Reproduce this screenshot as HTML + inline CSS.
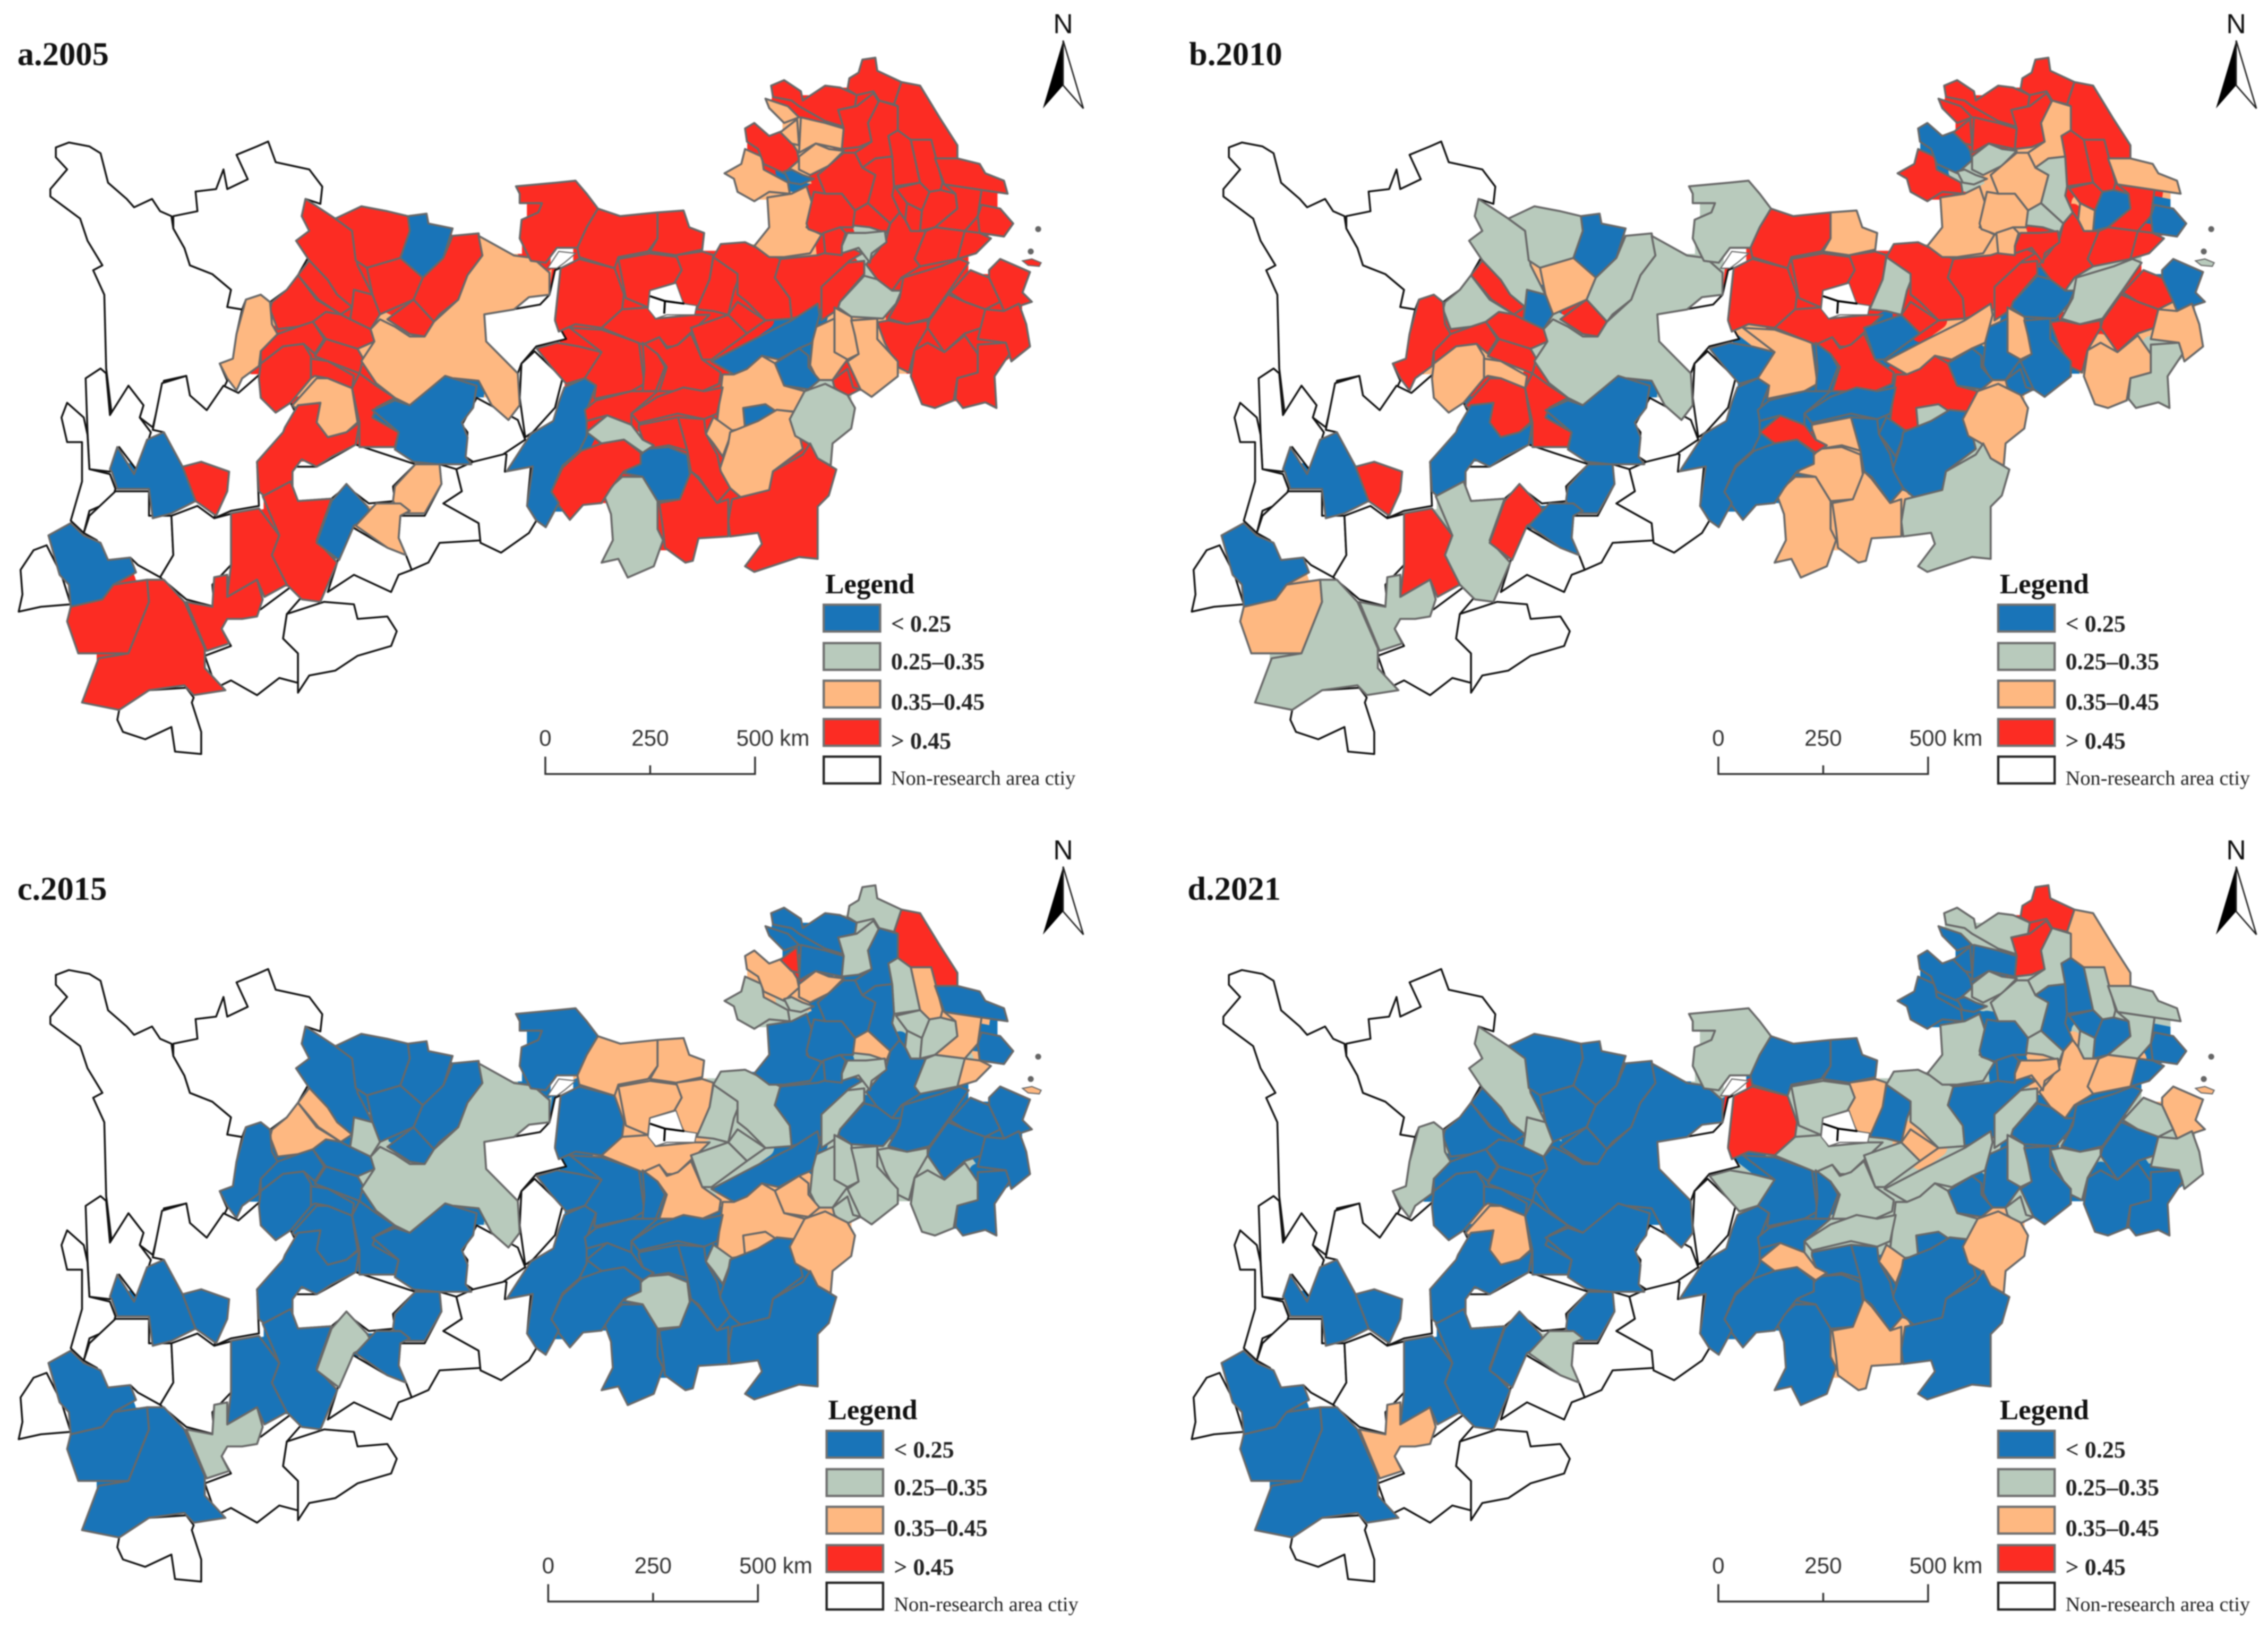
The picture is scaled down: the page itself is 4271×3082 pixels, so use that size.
<!DOCTYPE html>
<html lang="en">
<head>
<meta charset="utf-8">
<title>Four-panel choropleth map 2005-2021</title>
<style>
html,body{margin:0;padding:0;background:#fff}
svg{display:block;width:4271px;height:3082px;filter:blur(1.4px)}
.ttl{font:bold 23px "Liberation Serif",serif;fill:#111}
.leg-t{font:bold 19.5px "Liberation Serif",serif;fill:#111}
.leg-l{font:bold 16.2px "Liberation Serif",serif;fill:#222}
.leg-n{font:14.1px "Liberation Serif",serif;fill:#222}
.sc{font:15.5px "Liberation Sans",sans-serif;fill:#333}
.n{font:19px "Liberation Sans",sans-serif;fill:#111}
</style>
</head>
<body>
<svg id="figure" xmlns="http://www.w3.org/2000/svg" viewBox="0 0 1568 1131.5">
<defs>
<filter id="close-gaps" filterUnits="userSpaceOnUse" x="0" y="0" width="1568" height="1132" primitiveUnits="userSpaceOnUse">
<feMorphology in="SourceAlpha" operator="erode" radius="6" result="closed"/>
<feComposite in="SourceGraphic" in2="closed" operator="in"/>
</filter>
</defs>
</svg>
<script>
// ---------- chart data ----------
var panelTitles = ['a.2005', 'b.2010', 'c.2015', 'd.2021'];
var legendTitle = 'Legend';
var legendLabels = ['< 0.25', '0.25\u20130.35', '0.35\u20130.45', '> 0.45', 'Non-research area ctiy'];
var classBreaks = [0.25, 0.35, 0.45];
var classColors = ['#1974b8', '#b8cabc', '#feb881', '#fc2c23'];
var scaleTicks = [0, 250, 500];
var scaleUnit = 'km';
var northLabel = 'N';

// 31 western cities followed by 78 eastern cities, in the same order as the shapes below
var values2005 = [
.5,.5,.2,.5,.5,.5,.5,.5,.5,.5,.4,.5,.5,.5,.5,.4,.4,.5,.2,.5,.2,.5,.5,.5,.2,.4,.4,.2,.5,.5,.5,
.5,.5,.5,.5,.5,.5,.5,.5,.5,.5,
.4,.4,.5,.2,.4,.4,.4,.4,.5,.5,
.5,.5,.5,.5,.5,.5,.5,.5,.5,.5,
.5,.5,.5,.5,.5,.5,.5,.5,.3,.5,
.3,.5,.5,.5,.5,.5,.5,.5,.5,.4,
.4,.4,.5,.2,.2,.4,.2,.4,.4,.3,
.5,.2,.5,.5,.3,.3,.5,.5,.2,.5,
.5,.5,.5,.5,.5,.5,.5,.5
];
var values2010 = [
.3,.3,.2,.4,.3,.5,.5,.3,.2,.5,.5,.5,.4,.5,.4,.5,.3,.5,.2,.2,.2,.5,.5,.3,.5,.2,.2,.2,.4,.3,.3,
.3,.5,.4,.5,.5,.5,.3,.5,.5,.5,
.4,.5,.2,.3,.3,.5,.5,.5,.5,.5,
.5,.5,.4,.5,.5,.4,.4,.3,.5,.4,
.2,.5,.2,.5,.5,.5,.4,.3,.5,.4,
.2,.3,.5,.2,.5,.4,.5,.4,.3,.4,
.2,.2,.2,.4,.2,.5,.3,.2,.2,.4,
.3,.4,.2,.4,.5,.4,.4,.2,.2,.2,
.4,.5,.5,.2,.5,.2,.2,.2
];
var values2015 = [
.2,.2,.2,.2,.2,.2,.4,.4,.3,.2,.2,.2,.2,.2,.2,.2,.3,.2,.2,.2,.2,.2,.2,.2,.3,.2,.2,.2,.2,.2,.3,
.2,.4,.4,.2,.4,.4,.3,.3,.2,.3,
.2,.3,.4,.3,.4,.2,.5,.2,.2,.3,
.5,.3,.2,.3,.4,.2,.2,.2,.3,.3,
.3,.4,.2,.4,.3,.2,.2,.4,.3,.2,
.2,.2,.2,.2,.2,.2,.3,.3,.2,.3,
.3,.3,.3,.2,.4,.4,.4,.3,.2,.4,
.2,.3,.2,.2,.2,.2,.2,.2,.2,.2,
.2,.4,.4,.3,.3,.2,.2,.2
];
var values2021 = [
.3,.2,.2,.2,.2,.2,.2,.2,.3,.2,.3,.2,.2,.2,.2,.4,.2,.2,.2,.2,.2,.2,.2,.2,.2,.2,.3,.2,.2,.2,.4,
.3,.2,.2,.5,.3,.4,.2,.3,.2,.3,
.3,.2,.2,.2,.3,.2,.2,.2,.3,.5,
.4,.5,.3,.2,.3,.3,.3,.2,.2,.3,
.2,.3,.2,.2,.4,.4,.2,.3,.4,.2,
.2,.2,.3,.4,.2,.3,.3,.2,.2,.3,
.2,.2,.3,.3,.2,.3,.2,.4,.2,.4,
.2,.2,.2,.2,.4,.2,.4,.2,.2,.3,
.2,.3,.3,.3,.4,.2,.2,.3
];
var seriesByPanel = [values2005, values2010, values2015, values2021];

// ---------- map geometry (digitised outlines, not data) ----------
var westCities = [
[820,405,900,445,945,470,960,540,1000,600,950,590,945,625,905,600,880,570,830,530,795,490,830,470,810,440],
[900,445,970,420,1040,430,1095,440,1100,470,1075,525,985,545,955,530,945,470],
[1095,440,1145,435,1150,455,1215,465,1190,525,1135,565,1100,545,1075,525,1100,470],
[985,545,1075,525,1135,565,1110,610,1050,630,1020,640,1000,600],
[1215,480,1285,475,1295,520,1255,560,1230,610,1180,640,1165,655,1110,610,1135,565,1190,525],
[1040,650,1110,610,1165,655,1140,685,1100,680,1060,660],
[830,530,880,570,905,600,945,625,915,640,855,610,800,560],
[800,560,850,610,915,640,875,635,840,655,800,665,745,670,725,630,730,615,770,590],
[945,625,950,590,1000,600,1020,640,995,670,940,650],
[840,655,875,635,915,640,940,650,995,670,1005,695,960,710,875,690],
[660,610,700,600,725,615,730,660,745,680,700,715,695,745,650,770,635,795,610,770,590,740,625,730,635,680],
[745,680,800,665,840,655,870,690,845,720,815,700,760,705,700,740,700,715],
[700,740,760,705,815,700,835,725,835,770,780,820,740,840,700,810,695,770],
[875,690,960,710,975,730,965,760,880,735,845,725],
[835,730,880,735,950,765,945,790,880,770,845,765,835,770],
[785,825,850,770,880,770,945,790,960,860,930,880,880,890,850,860,860,820,790,830],
[1285,480,1380,520,1430,525,1475,555,1475,600,1420,605,1380,630,1300,640,1305,695,1390,760,1395,825,1365,855,1320,825,1285,775,1220,770,1190,770,1140,800,1100,825,1060,810,1010,780,970,735,1005,695,995,670,1020,650,1060,665,1100,685,1140,685,1165,655,1230,610,1255,560,1295,520],
[965,760,1010,785,1060,810,1010,830,1000,850,1070,880,1060,910,1005,910,965,910,965,860,945,790],
[1000,835,1060,815,1100,825,1140,800,1195,765,1280,785,1270,830,1240,860,1255,890,1250,930,1265,945,1175,945,1110,940,1060,915,1070,880],
[765,870,800,825,860,820,850,860,880,890,930,880,965,860,955,905,890,930,850,950,810,935,785,960,785,1000,710,1010,695,1000,690,940,760,880],
[295,955,315,910,360,965,395,895,440,880,490,950,525,1020,460,1045,410,1055,400,995,315,995,300,960],
[490,950,540,940,615,960,610,1000,580,1050,525,1020],
[620,1045,695,1035,750,1090,730,1130,770,1190,710,1215,690,1180,610,1215,620,1150],
[705,1010,780,980,800,1020,890,1015,850,1100,905,1145,860,1225,810,1220,770,1190,730,1130,750,1090],
[890,1020,930,985,985,1030,1000,1050,950,1070,910,1140,850,1105],
[1060,990,1115,945,1180,945,1185,985,1140,1045,1075,1045,1055,1020],
[955,1070,1010,1025,1075,1025,1100,1040,1075,1050,1070,1095,1090,1130,1040,1115],
[130,1090,190,1065,225,1090,270,1105,290,1140,350,1135,365,1165,305,1190,275,1220,190,1235,185,1190,160,1170],
[190,1235,275,1220,305,1190,395,1180,400,1225,345,1330,210,1330,180,1265],
[395,1180,440,1180,495,1225,550,1320,550,1360,605,1405,520,1415,495,1395,400,1405,320,1445,220,1430,265,1340,345,1330,400,1225],
[500,1225,570,1235,575,1175,610,1170,610,1215,690,1180,705,1220,690,1255,650,1260,610,1260,595,1280,615,1310,555,1325]
];
var eastCities = [
[-40,500,70,490,120,485,150,520,180,560,150,610,125,665,70,665,40,705,0,700,-30,640,-25,590,20,570,30,545,-30,545,-30,520],
[180,560,240,580,340,570,340,640,315,675,235,690,225,720,130,690,125,665,150,610],
[340,570,410,565,425,610,465,625,460,670,390,685,320,675,340,640],
[80,720,130,695,225,720,250,790,245,830,190,880,120,870,75,890,65,860],
[235,695,320,680,395,690,405,725,385,760,320,780,315,825,255,800],
[390,685,460,675,490,685,480,750,450,825,410,815,385,760,405,725],
[490,690,565,730,545,780,530,845,490,835,445,830,480,750],
[510,655,575,650,670,695,655,745,695,800,700,855,630,860,580,810,555,790,555,735,490,690],
[670,695,770,685,850,660,890,680,855,700,800,760,780,800,780,830,700,855,695,800,655,745],
[780,770,850,705,895,700,895,735,830,810,825,830,780,860],
[600,660,640,610,635,530,700,520,740,500,760,560,740,610,780,630,750,680,680,690,640,690],
[520,465,565,440,575,400,620,420,625,455,690,490,695,520,640,515,600,540,555,515,545,480],
[575,345,600,330,640,365,680,350,715,405,720,430,680,465,625,440,610,400,580,380],
[680,460,700,455,730,470,760,480,725,495,695,490],
[720,420,765,385,800,400,840,405,800,445,750,470,720,455],
[725,315,790,330,840,345,835,400,765,385,720,410],
[670,355,715,320,720,390,700,385],
[630,265,690,285,720,315,680,330,640,290],
[645,230,680,215,725,245,730,270,790,230,830,235,875,255,870,285,825,295,840,340,790,325,720,285,700,270,650,260],
[855,210,880,195,890,160,925,155,930,190,995,220,975,280,935,270,920,245,875,255,850,240],
[995,220,1045,230,1100,320,1145,390,1145,425,1085,425,1075,375,1015,375,985,350,985,285,975,280],
[825,295,875,285,920,250,935,275,905,330,915,380,880,395,835,400,840,345],
[935,270,985,285,985,350,960,365,970,420,925,425,890,450,870,410,915,380,905,330],
[960,365,985,350,1020,375,1045,490,975,500,970,420],
[1020,375,1075,375,1105,490,1100,510,1070,515,1045,490],
[1085,425,1145,425,1205,440,1220,465,1270,485,1280,520,1210,510,1110,495],
[770,470,840,410,870,410,890,450,925,470,905,545,870,565,835,520,790,520],
[890,450,925,425,970,420,975,500,970,525,990,570,965,600,905,545,925,470],
[980,505,1045,490,1070,515,1050,565,1010,545],
[1010,545,1050,565,1045,620,1020,620,1005,590],
[1070,515,1100,510,1140,520,1145,560,1085,610,1045,620,1050,565],
[1110,495,1210,510,1200,580,1165,620,1085,610,1145,560,1140,520],
[1210,550,1260,560,1295,600,1270,635,1205,625,1200,580],
[1165,620,1205,625,1235,640,1195,680,1145,695,1140,650],
[1060,620,1085,610,1165,620,1145,695,1045,715,1030,695],
[965,600,990,570,1005,590,1020,620,1060,620,1030,695,1045,715,995,745,970,780,930,750,900,710,930,675,955,640],
[740,600,760,515,790,520,835,520,870,565,865,610,830,610,785,630,745,615],
[870,565,905,545,965,600,955,625,910,610,865,605],
[835,660,850,625,900,625,950,620,955,650,915,680,910,705,880,665,835,680],
[785,625,830,610,845,625,835,660,835,685,790,680],
[830,810,895,740,930,750,970,780,995,780,980,815,945,855,860,850,825,825],
[1000,745,1100,715,1150,695,1175,705,1120,785,1070,855,1010,870,960,855,990,800],
[1125,785,1180,725,1230,745,1260,810,1220,830,1165,810],
[1230,725,1260,695,1340,730,1320,785,1345,810,1270,835,1260,810,1230,745],
[1070,860,1120,790,1165,810,1220,830,1210,880,1165,895,1110,945,1065,880],
[1220,830,1270,835,1310,815,1330,870,1340,930,1290,970,1275,920,1200,910],
[930,865,960,860,1010,870,1065,860,1065,880,1030,940,1015,1000,985,985,950,920],
[1030,940,1065,920,1110,945,1165,900,1200,950,1200,1000,1145,1015,1135,1075,1085,1095,1050,1085,1020,1010],
[1200,925,1275,920,1285,950,1245,1010,1250,1095,1220,1080,1160,1095,1140,1070,1145,1015,1200,1000],
[815,825,860,850,870,900,880,950,850,965,815,945],
[760,880,815,855,815,945,850,965,835,985,810,1020,770,1020,750,980],
[860,860,930,855,930,910,985,970,985,1010,915,1065,885,1045,850,970,880,950,870,900],
[810,1020,850,990,865,1040,885,1045,845,1065,815,1040],
[485,970,600,910,700,860,770,815,775,845,755,920,720,935,665,965,620,955,580,990,545,1005],
[655,975,720,935,745,955,745,985,775,1020,745,1045,680,1035],
[515,1005,545,1005,580,990,620,955,655,975,680,1035,735,1050,710,1105,660,1100,610,1130,570,1150,540,1155,500,1130],
[570,1095,630,1085,660,1105,610,1130,575,1150],
[470,1165,490,1120,505,1130,540,1155,530,1185,515,1225,490,1190],
[535,1160,610,1130,660,1100,705,1105,730,1205,650,1265,640,1315,570,1340,535,1310,505,1265,530,1190],
[695,1125,735,1050,790,1030,850,1060,870,1095,860,1150,810,1190,805,1250,770,1230,745,1190,710,1170],
[540,1340,640,1315,650,1265,730,1220,750,1190,770,1230,820,1260,800,1330,770,1360,770,1500,720,1495,600,1535,575,1520,620,1460,610,1430,535,1440,530,1400],
[310,1205,370,1200,420,1220,430,1300,400,1340,340,1345,300,1280,250,1270],
[395,1120,465,1125,470,1165,500,1220,510,1265,535,1310,500,1350,450,1280,430,1265,420,1210],
[290,1140,395,1120,420,1210,370,1195,310,1205,290,1150],
[150,1160,205,1115,270,1140,300,1180,330,1195,300,1215,250,1180,190,1190],
[195,1325,245,1280,300,1280,340,1345,340,1420,355,1450,330,1520,260,1550,235,1500,190,1510,220,1450,215,1380],
[345,1350,400,1340,430,1265,450,1285,500,1350,530,1340,530,1440,450,1445,435,1505,415,1510,360,1470,355,1420],
[55,1320,85,1255,135,1210,190,1190,250,1180,295,1215,295,1245,250,1265,215,1310,190,1350,140,1355,105,1395,70,1350],
[-65,1265,0,1165,60,1130,75,1080,90,1040,145,1015,175,1035,150,1100,150,1170,130,1210,85,1250,55,1320,75,1350,40,1415,15,1397,-10,1358,5,1252],
[15,935,70,920,130,930,190,945,175,1000,145,1015,95,1030,55,985],
[105,880,190,885,290,920,305,1030,270,1050,170,1070,175,1035,145,1015,190,945],
[190,880,245,830,315,825,335,855,440,845,480,845,390,930,365,930,345,905,300,925],
[300,925,345,905,365,935,395,925,430,895,445,930,460,965,510,1000,505,1030,460,1050,345,1050,365,985,340,950],
[430,880,530,845,580,895,485,965,460,965],
[530,845,555,810,630,860,580,895],
[300,920,340,950,360,985,335,1050,300,1050,305,990],
[145,1100,175,1075,270,1050,340,1050,270,1110,270,1140,205,1115,150,1130],
[270,1110,340,1065,410,1040,465,1050,515,1040,500,1110,465,1125,395,1110,290,1135]
];
var westOutside = [
[150,300,185,290,240,298,270,312,290,372,340,405,360,422,408,405,430,430,460,440,465,465,495,505,510,540,570,558,620,590,610,625,650,630,660,610,650,630,635,680,625,730,590,740,610,775,565,845,540,845,510,805,500,765,440,775,410,870,375,850,385,825,345,785,300,845,285,750,280,600,250,550,275,540,235,490,215,445,135,400,135,385,180,345,150,320],
[465,440,530,430,525,390,580,385,600,345,610,385,665,365,635,315,690,298,720,288,740,330,830,345,865,380,860,415,820,405,810,440,830,470,795,490,830,520,800,560,770,590,725,615,700,600,660,610,650,630,610,625,620,590,570,558,510,540,495,505,465,465],
[410,875,435,780,500,765,510,805,555,835,600,785,640,800,700,760,780,820,800,850,760,880,690,940,695,1030,620,1040,575,1055,610,960,540,940,490,950,440,880],
[230,770,270,750,285,760,295,845,345,785,385,825,375,850,405,880,370,960,320,910,295,960,240,955,235,880],
[165,850,180,820,225,850,235,885,240,955,295,965,310,995,300,1020,240,1040,225,1085,190,1060,220,980,220,900,180,900],
[240,1050,310,1000,400,1000,400,1050,460,1050,465,1130,430,1175,370,1150,350,1135,290,1140,260,1100,225,1085],
[460,1050,530,1030,575,1055,625,1045,620,1150,570,1190,575,1235,500,1220,430,1175,465,1130],
[125,1110,165,1170,190,1230,110,1235,50,1245,60,1210,55,1160,90,1120],
[320,1445,400,1405,500,1400,520,1420,515,1430,540,1490,540,1535,470,1530,460,1480,390,1505,330,1490,315,1465],
[610,1260,700,1240,780,1195,810,1215,770,1250,760,1300,800,1330,800,1390,750,1380,690,1415,620,1385,580,1400,550,1335,620,1315,595,1280],
[770,1250,870,1225,950,1230,960,1260,1040,1255,1065,1285,1050,1315,960,1335,900,1365,830,1375,800,1410,800,1330,760,1300],
[785,950,850,950,955,905,1115,945,1055,990,1060,1020,990,1025,930,990,890,1015,800,1020,785,990],
[930,1060,950,1075,1040,1115,1090,1130,1105,1160,1070,1170,1050,1205,950,1170,880,1205,905,1145],
[1075,1050,1140,1050,1185,985,1180,945,1225,955,1240,1000,1190,1025,1285,1065,1290,1100,1180,1105,1150,1145,1105,1160,1090,1130,1070,1095],
[1225,955,1330,920,1360,925,1355,960,1425,950,1415,1030,1440,1060,1420,1085,1345,1125,1290,1105,1285,1065,1190,1025,1240,1000],
[1240,865,1280,810,1390,855,1410,895,1350,925,1270,940,1250,930,1255,880],
[1300,640,1450,620,1475,600,1490,550,1505,545,1490,650,1520,690,1440,705,1400,740,1390,760,1300,700],
[1400,740,1435,715,1510,770,1490,830,1430,880,1410,890,1395,810]
];
var eastHoles = [
[320,780,390,760,410,815,445,820,440,845,365,845,335,855,315,830],
[45,720,75,675,120,680,90,705,70,720]
];
var eastHoleLines = [
[320,795,360,808,412,815],
[360,808,358,842]
];
var islandValues = [.5,.3,.4,.4];
var islandShape = [1320,700,1345,695,1370,705,1365,715,1335,712];
var islandDots = [[1362,615,8],[1342,675,8]];

// ---------- layout ----------
var NS = 'http://www.w3.org/2000/svg';
var svg = document.getElementById('figure');
var panelOffsets = [[0,0],[811,0],[0,572],[811,572]];
var titleAnchors = [[12,45],[822,45],[12,622],[821,622]];
var legendOffsets = [[0,0],[812,0],[2,571],[812,571]];
var scaleOffsets = [[0,0],[811,0],[2,572],[811,572]];
var northOffsets = [[0,0],[811,0],[0,571],[811,571]];

function westPoint(x, y) { return [x / 3.883, y / 2.945]; }
function eastPoint(x, y) { return [367 + x / 3.883, y / 3.883]; }
function pointString(flat, project) {
  var out = [];
  for (var i = 0; i < flat.length; i += 2) {
    var p = project(flat[i], flat[i + 1]);
    out.push(p[0].toFixed(1) + ',' + p[1].toFixed(1));
  }
  return out.join(' ');
}
function colorFor(value) {
  var i = 0;
  while (i < classBreaks.length && value >= classBreaks[i]) i++;
  return classColors[i];
}
function scaleX(km) { return 377 + km * (145 / 500); }
function make(tag, parent) {
  var el = document.createElementNS(NS, tag);
  parent.appendChild(el);
  return el;
}

panelTitles.forEach(function (title, p) {
  var values = seriesByPanel[p];
  var off = panelOffsets[p];
  var g = make('g', svg);
  
  

  var mapG = make('g', g);
  mapG.setAttribute('transform', 'translate(' + off[0] + ' ' + off[1] + ')');
  
  

  // gap-closing colour layer under the crisp city polygons
  var under = make('g', mapG);
  under.setAttribute('filter', 'url(#close-gaps)');
  
  
  westCities.forEach(function (shape, i) {
    var el = make('polygon', under);
    el.setAttribute('points', pointString(shape, westPoint));
    el.setAttribute('fill', colorFor(values[i]));
    el.setAttribute('stroke', colorFor(values[i]));
    el.setAttribute('stroke-width', '12');
    el.setAttribute('stroke-linejoin', 'round');
    
    
  });
  eastCities.forEach(function (shape, i) {
    var el = make('polygon', under);
    el.setAttribute('points', pointString(shape, eastPoint));
    el.setAttribute('fill', colorFor(values[westCities.length + i]));
    el.setAttribute('stroke', colorFor(values[westCities.length + i]));
    el.setAttribute('stroke-width', '12');
    el.setAttribute('stroke-linejoin', 'round');
    
    
  });

  westOutside.forEach(function (shape, i) {
    var el = make('polygon', mapG);
    el.setAttribute('points', pointString(shape, westPoint));
    el.setAttribute('fill', '#fff');
    el.setAttribute('stroke', '#111');
    el.setAttribute('stroke-width', '1.3');
    el.setAttribute('stroke-linejoin', 'round');
    
    
  });

  westCities.forEach(function (shape, i) {
    var el = make('polygon', mapG);
    el.setAttribute('points', pointString(shape, westPoint));
    el.setAttribute('fill', colorFor(values[i]));
    el.setAttribute('stroke', '#686868');
    el.setAttribute('stroke-width', '1.4');
    el.setAttribute('stroke-linejoin', 'round');
    
    
  });

  eastCities.forEach(function (shape, i) {
    var el = make('polygon', mapG);
    el.setAttribute('points', pointString(shape, eastPoint));
    el.setAttribute('fill', colorFor(values[westCities.length + i]));
    el.setAttribute('stroke', '#686868');
    el.setAttribute('stroke-width', '1.4');
    el.setAttribute('stroke-linejoin', 'round');
    
    
  });

  eastHoles.forEach(function (shape, i) {
    var el = make('polygon', mapG);
    el.setAttribute('points', pointString(shape, eastPoint));
    el.setAttribute('fill', '#fff');
    el.setAttribute('stroke', '#686868');
    el.setAttribute('stroke-width', '0.8');
    
    
  });

  eastHoleLines.forEach(function (shape, i) {
    var el = make('polyline', mapG);
    el.setAttribute('points', pointString(shape, eastPoint));
    el.setAttribute('fill', 'none');
    el.setAttribute('stroke', '#000');
    el.setAttribute('stroke-width', '1.4');
    
    
  });

  var island = make('polygon', mapG);
  island.setAttribute('points', pointString(islandShape, eastPoint));
  island.setAttribute('fill', colorFor(islandValues[p]));
  island.setAttribute('stroke', '#686868');
  island.setAttribute('stroke-width', '0.8');
  
  

  islandDots.forEach(function (d, i) {
    var c = eastPoint(d[0], d[1]);
    var el = make('circle', mapG);
    el.setAttribute('cx', c[0]);
    el.setAttribute('cy', c[1]);
    el.setAttribute('r', d[2] / 3.883);
    el.setAttribute('fill', '#666');
    
    
  });

  var t = make('text', g);
  t.setAttribute('x', titleAnchors[p][0]);
  t.setAttribute('y', titleAnchors[p][1]);
  t.setAttribute('class', 'ttl');
  t.textContent = title;
  
  

  // north arrow
  var no = northOffsets[p];
  var north = make('g', g);
  north.setAttribute('transform', 'translate(' + no[0] + ' ' + no[1] + ')');
  
  
  var nt = make('text', north);
  nt.setAttribute('x', 735);
  nt.setAttribute('y', 23);
  nt.setAttribute('text-anchor', 'middle');
  nt.setAttribute('class', 'n');
  nt.textContent = northLabel;
  
  
  var nl = make('polygon', north);
  nl.setAttribute('points', '735,28 721,75 735,59');
  nl.setAttribute('fill', '#000');
  
  
  var nr = make('polygon', north);
  nr.setAttribute('points', '735,28 749,75 735,59');
  nr.setAttribute('fill', '#fff');
  nr.setAttribute('stroke', '#222');
  nr.setAttribute('stroke-width', '1');
  
  

  // scale bar
  var so = scaleOffsets[p];
  var scale = make('g', g);
  scale.setAttribute('transform', 'translate(' + so[0] + ' ' + so[1] + ')');
  
  
  var sl = make('line', scale);
  sl.setAttribute('x1', scaleX(scaleTicks[0]));
  sl.setAttribute('x2', scaleX(scaleTicks[scaleTicks.length - 1]));
  sl.setAttribute('y1', 535);
  sl.setAttribute('y2', 535);
  sl.setAttribute('stroke', '#333');
  sl.setAttribute('stroke-width', '1.3');
  
  
  scaleTicks.forEach(function (km, i) {
    var tk = make('line', scale);
    tk.setAttribute('x1', scaleX(km));
    tk.setAttribute('x2', scaleX(km));
    tk.setAttribute('y1', i === 1 ? 529 : 523);
    tk.setAttribute('y2', 535.6);
    tk.setAttribute('stroke', '#333');
    tk.setAttribute('stroke-width', '1.3');
    
    
    var lb = make('text', scale);
    lb.setAttribute('x', scaleX(km));
    lb.setAttribute('y', 515.5);
    lb.setAttribute('text-anchor', 'middle');
    lb.setAttribute('class', 'sc');
    lb.textContent = km;
    
    
  });
  var un = make('text', scale);
  un.setAttribute('x', scaleX(scaleTicks[2]) + 17);
  un.setAttribute('y', 515.5);
  un.setAttribute('class', 'sc');
  un.textContent = scaleUnit;
  
  

  // legend
  var lo = legendOffsets[p];
  var legend = make('g', g);
  legend.setAttribute('transform', 'translate(' + lo[0] + ' ' + lo[1] + ')');
  
  
  var lt = make('text', legend);
  lt.setAttribute('x', 570.5);
  lt.setAttribute('y', 410);
  lt.setAttribute('class', 'leg-t');
  lt.textContent = legendTitle;
  
  
  var rowTops = [418, 444.5, 470.5, 497, 523];
  var rowBase = [437, 463, 491, 518, 543];
  legendLabels.forEach(function (label, i) {
    var r = make('rect', legend);
    r.setAttribute('x', 569.5);
    r.setAttribute('y', rowTops[i]);
    r.setAttribute('width', 39);
    r.setAttribute('height', 18.5);
    r.setAttribute('fill', i < classColors.length ? classColors[i] : '#fff');
    r.setAttribute('stroke', i < classColors.length ? '#707070' : '#222');
    r.setAttribute('stroke-width', '1.6');
    
    
    var tx = make('text', legend);
    tx.setAttribute('x', 616);
    tx.setAttribute('y', rowBase[i] - 0.5);
    tx.setAttribute('class', i < classColors.length ? 'leg-l' : 'leg-n');
    tx.textContent = label;
    
    
  });
});
</script>
</body>
</html>
